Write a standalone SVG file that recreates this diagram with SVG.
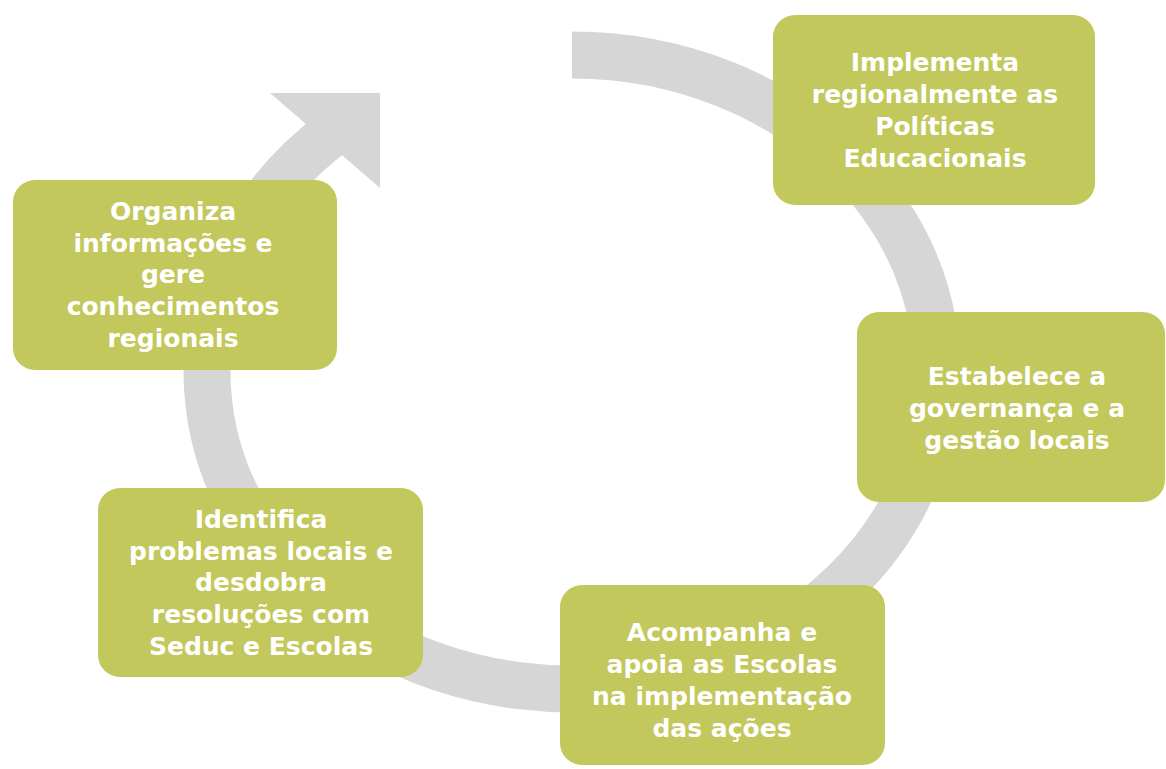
<svg xmlns="http://www.w3.org/2000/svg" width="1166" height="769" viewBox="0 0 1166 769">
<style>
.box{fill:#c2c85b;}
.t{font-family:"DejaVu Sans","Liberation Sans",sans-serif;font-weight:bold;font-size:25px;fill:#ffffff;text-anchor:middle;}
.arc{fill:none;stroke:#d6d6d6;stroke-width:47;stroke-linecap:butt;}
</style>
<rect width="1166" height="769" fill="#ffffff"/>
<g id="connectors">
<path class="arc" d="M 572 55 A 365 317 0 1 1 337.4 129.2"/>
<polygon points="270,93 380,93 380,188" fill="#d6d6d6"/>
</g>
<g id="node-implementa">
<rect class="box" x="773" y="15" width="322" height="190" rx="22"/>
<text class="t" x="935"><tspan x="935" y="71">Implementa</tspan><tspan x="935" y="103">regionalmente as</tspan><tspan x="935" y="135">Políticas</tspan><tspan x="935" y="167">Educacionais</tspan></text>
</g>
<g id="node-estabelece">
<rect class="box" x="857" y="312" width="308" height="190" rx="22"/>
<text class="t" x="1017"><tspan x="1017" y="385">Estabelece a</tspan><tspan x="1017" y="417">governança e a</tspan><tspan x="1017" y="449">gestão locais</tspan></text>
</g>
<g id="node-acompanha">
<rect class="box" x="560" y="585" width="325" height="180" rx="22"/>
<text class="t" x="722"><tspan x="722" y="641">Acompanha e</tspan><tspan x="722" y="673">apoia as Escolas</tspan><tspan x="722" y="705">na implementação</tspan><tspan x="722" y="737">das ações</tspan></text>
</g>
<g id="node-identifica">
<rect class="box" x="98" y="488" width="325" height="189" rx="22"/>
<text class="t" x="261"><tspan x="261" y="528">Identifica</tspan><tspan x="261" y="560">problemas locais e</tspan><tspan x="261" y="591">desdobra</tspan><tspan x="261" y="623">resoluções com</tspan><tspan x="261" y="655">Seduc e Escolas</tspan></text>
</g>
<g id="node-organiza">
<rect class="box" x="13" y="180" width="324" height="190" rx="22"/>
<text class="t" x="173"><tspan x="173" y="220">Organiza</tspan><tspan x="173" y="252">informações e</tspan><tspan x="173" y="283">gere</tspan><tspan x="173" y="315">conhecimentos</tspan><tspan x="173" y="347">regionais</tspan></text>
</g>
</svg>
